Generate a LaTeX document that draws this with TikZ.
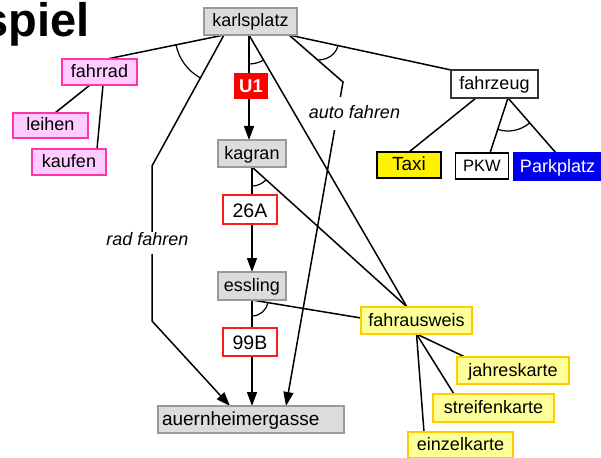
\documentclass[tikz,border=0pt]{standalone}
\usepackage{fontspec}
\setmainfont{Liberation Sans}
\usetikzlibrary{arrows.meta,backgrounds}
\definecolor{boxgray}{HTML}{DCDCDC}
\definecolor{bordergray}{HTML}{999999}
\definecolor{pinkfill}{HTML}{FFCCFF}
\definecolor{pinkdraw}{HTML}{FF33AA}
\definecolor{yelfill}{HTML}{FFFF99}
\definecolor{yeldraw}{HTML}{FFCC00}
\definecolor{redline}{HTML}{FF1A1A}
\definecolor{ublue}{HTML}{0000EE}
\definecolor{darkline}{HTML}{333333}
\begin{document}
\begin{tikzpicture}[x=1pt,y=1pt,
  box/.style={draw, line width=1.2pt, inner sep=0pt, outer sep=0pt, minimum height=26pt,
    text height=13.5pt, text depth=2.5pt, font=\fontsize{18}{20}\selectfont},
  graybox/.style={box, fill=boxgray, draw=bordergray},
  pinkbox/.style={box, fill=pinkfill, draw=pinkdraw},
  yelbox/.style={box, fill=yelfill, draw=yeldraw},
  redbox/.style={box, fill=white, draw=redline, minimum width=54pt, minimum height=29pt,
    text height=15.5pt, text depth=0pt, font=\fontsize{19.5}{22}\selectfont},
  u1box/.style={fill=red, text=white, inner sep=0pt, minimum width=34pt, minimum height=26pt,
    text height=13pt, text depth=0pt, font=\fontsize{18.5}{20}\selectfont\bfseries},
  lbl/.style={fill=white, inner xsep=2pt, inner ysep=0pt, font=\fontsize{18}{20}\selectfont\itshape},
  conn/.style={line width=1.5pt, black},
  arr/.style={conn, -{Triangle[length=14pt,width=10pt]}},
  andarc/.style={line width=1.2pt, black}
]
\useasboundingbox (0,0) rectangle (601,-457);

% title
\node[anchor=base east, inner sep=0pt, font=\fontsize{47}{50}\selectfont\bfseries] (title) at (90,-37) {spiel};

% nodes
\node[graybox, minimum width=93pt, minimum height=27pt, font=\fontsize{18}{20}\selectfont] (karlsplatz) at (250.5,-21.5) {karlsplatz};
\node[pinkbox, minimum width=75pt] (fahrrad) at (99.5,-72) {fahrrad};
\node[pinkbox, minimum width=75pt, minimum height=25pt] (leihen) at (50.5,-125.5) {leihen};
\node[pinkbox, minimum width=74pt] (kaufen) at (69,-162) {kaufen};
\node[u1box] (U1) at (251,-86) {U1};
\node[box, draw=darkline, fill=white, minimum width=87pt, minimum height=28pt] (fahrzeug) at (494.5,-84) {fahrzeug};
\node[box, fill=yellow, draw=black, minimum width=64pt, font=\fontsize{19}{22}\selectfont] (Taxi) at (409,-165) {Taxi};
\node[box, fill=white, draw=black, minimum width=53pt, font=\fontsize{16.5}{20}\selectfont] (PKW) at (482,-166) {PKW};
\node[box, fill=ublue, draw=ublue, text=white, minimum width=87pt, minimum height=27pt] (Parkplatz) at (557.5,-166.5) {Parkplatz};
\node[graybox, minimum width=68pt, minimum height=27pt] (kagran) at (252,-153.5) {kagran};
\node[redbox] (b26A) at (250,-209.5) {26A};
\node[graybox, minimum width=68pt, minimum height=28pt] (essling) at (252,-286) {essling};
\node[redbox, minimum height=28pt] (b99B) at (250,-342) {99B};
\node[graybox, minimum height=27pt, text width=178pt, align=left, inner xsep=4pt,
  font=\fontsize{19}{22}\selectfont] (auer) at (251,-419.5) {auernheimergasse};
\node[yelbox, minimum width=111pt, minimum height=27pt] (fahrausweis) at (416.5,-320.5) {fahrausweis};
\node[yelbox, minimum width=112pt, minimum height=27pt] (jahreskarte) at (513,-370.5) {jahreskarte};
\node[yelbox, minimum width=121pt, minimum height=28pt] (streifenkarte) at (493.5,-408) {streifenkarte};
\node[yelbox, minimum width=105pt] (einzelkarte) at (460.5,-445) {einzelkarte};

% edge labels
\node[lbl, minimum height=33pt, text height=12pt, text depth=1pt] (autofahren) at (354.5,-113.5) {auto fahren};
\node[lbl, minimum height=22pt, text height=12pt, text depth=7pt] (radfahren) at (147.5,-242.5) {rad fahren};

% connectors
\begin{scope}[on background layer]
\coordinate (kL) at ([xshift=-26.5pt]karlsplatz.south);
\coordinate (kM) at ([xshift=-1.5pt]karlsplatz.south);
\coordinate (kR) at ([xshift=38.5pt]karlsplatz.south);
\coordinate (rb1) at (152,-166);
\coordinate (rb2) at (152,-321);
\coordinate (ab) at (343,-82);
\coordinate (fzL) at ([xshift=-18.5pt]fahrzeug.south);
\coordinate (fzR) at ([xshift=13.5pt]fahrzeug.south);
\coordinate (faS) at (fahrausweis.south);
\coordinate (faN) at ([xshift=-9.5pt]fahrausweis.north);

\draw[conn] (kL) -- ([xshift=7.5pt]fahrrad.north);
\draw[conn] ([xshift=-9.5pt]fahrrad.south) -- ([xshift=4.5pt]leihen.north);
\draw[conn] ([xshift=3.5pt]fahrrad.south) -- ([xshift=28pt]kaufen.north);
\draw[arr] (kL) -- (rb1) -- (rb2) -- ([xshift=-21pt]auer.north);
\draw[arr] (kM) -- (kM |- kagran.north);
\draw[conn] (kM) -- (faN);
\draw[conn] (kR) -- (fahrzeug.north west);
\draw[arr] (kR) -- (ab) -- ([xshift=35pt]auer.north);
\draw[conn] (fzL) -- (Taxi.north);
\draw[conn] (fzR) -- ([xshift=8pt]PKW.north);
\draw[conn] (fzR) -- ([xshift=-1.5pt]Parkplatz.north);
\draw[arr] (kagran.south) -- (essling.north);
\draw[conn] (kagran.south) -- (faN);
\draw[conn] (essling.south) -- ([yshift=2.5pt]fahrausweis.west);
\draw[arr] (essling.south) -- (essling.south |- auer.north);
\draw[conn] (faS) -- ([xshift=-48pt]jahreskarte.north);
\draw[conn] (faS) -- ([xshift=-39.5pt]streifenkarte.north);
\draw[conn] (faS) -- ([xshift=-36.5pt]einzelkarte.north);

% and-arcs
\draw[andarc] (kL) ++(-168.4:49) arc[start angle=-168.4, end angle=-118.8, radius=49];
\draw[andarc] (kM) ++(-90:29) arc[start angle=-90, end angle=-59.8, radius=29];
\draw[andarc] (317.7,-60) .. controls (328,-60) and (336,-54) .. (338,-45.6);
\draw[andarc] (fzR) ++(-108.1:33) arc[start angle=-108.1, end angle=-48.9, radius=33];
\draw[andarc] (kagran.south) ++(-90:19) arc[start angle=-90, end angle=-42.3, radius=19];
\draw[andarc] (essling.south) ++(-90:16) arc[start angle=-90, end angle=-9.4, radius=16];
\end{scope}
\end{tikzpicture}
\end{document}
